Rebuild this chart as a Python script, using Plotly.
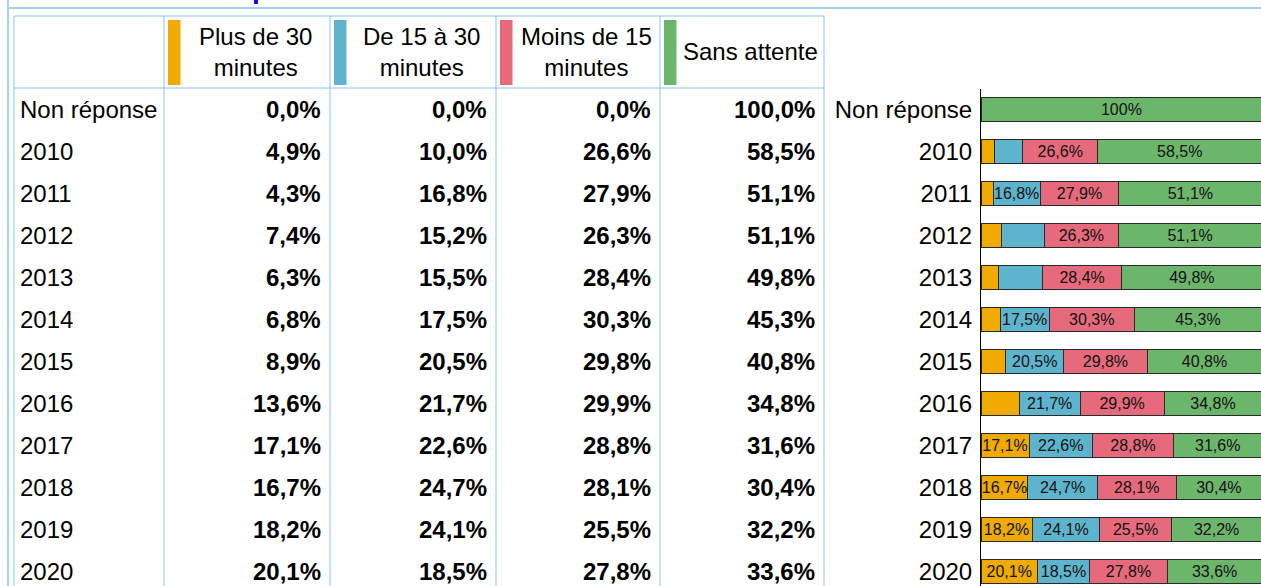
import plotly.graph_objects as go

# ---------------- data ----------------
categories = ["Non réponse", "2010", "2011", "2012", "2013", "2014", "2015",
              "2016", "2017", "2018", "2019", "2020"]
series_names = ["Plus de 30 minutes", "De 15 à 30 minutes",
                "Moins de 15 minutes", "Sans attente"]
header_labels = ["Plus de 30<br>minutes", "De 15 à 30<br>minutes",
                 "Moins de 15<br>minutes", "Sans attente"]
plus_30 = [0.0, 4.9, 4.3, 7.4, 6.3, 6.8, 8.9, 13.6, 17.1, 16.7, 18.2, 20.1]
de_15_30 = [0.0, 10.0, 16.8, 15.2, 15.5, 17.5, 20.5, 21.7, 22.6, 24.7, 24.1, 18.5]
moins_15 = [0.0, 26.6, 27.9, 26.3, 28.4, 30.3, 29.8, 29.9, 28.8, 28.1, 25.5, 27.8]
sans_attente = [100.0, 58.5, 51.1, 51.1, 49.8, 45.3, 40.8, 34.8, 31.6, 30.4, 32.2, 33.6]
series_values = [plus_30, de_15_30, moins_15, sans_attente]
colors = ["#F0AA00", "#5FB4CD", "#E66A7B", "#6CB66C"]
label_min = 16.5  # segments smaller than this carry no label in the chart

# ---------------- layout helpers ----------------
W, H = 1261, 586
FONT = "Liberation Sans, Arial, sans-serif"
GRID = "#8EC1F7"


def px(x):
    return x / W


def py(y):
    return 1 - y / H


def fr(v):
    return f"{v:.1f}".replace(".", ",") + "%"


def bar_label(v):
    if v < label_min:
        return ""
    if v == 100:
        return "100%"
    return fr(v)


fig = go.Figure()

for name, vals, col in zip(series_names, series_values, colors):
    fig.add_trace(go.Bar(
        y=categories, x=vals, name=name, orientation="h",
        marker=dict(color=col, line=dict(color="#2a2a2a", width=1)),
        text=[bar_label(v) for v in vals],
        textposition="inside", insidetextanchor="middle", textangle=0,
        textfont=dict(family=FONT, size=16, color="#111111"),
        hoverinfo="skip", showlegend=False,
    ))

plot_top = 88.5
n_visible = (H - plot_top) / 42.0

fig.update_layout(
    width=W, height=H, autosize=False,
    margin=dict(l=0, r=0, t=0, b=0),
    paper_bgcolor="white", plot_bgcolor="white",
    barmode="stack", bargap=0.43,
    uniformtext=dict(minsize=16, mode="show"),
    font=dict(family=FONT, color="#000000"),
    xaxis=dict(domain=[px(981), 1], range=[0, 99.7], visible=False,
               fixedrange=True),
    yaxis=dict(domain=[0, py(plot_top)], type="category",
               range=[n_visible - 0.5, -0.5],
               showline=True, linecolor="#000000", linewidth=1,
               showgrid=False, zeroline=False, ticks="",
               ticklabelstandoff=3,
               tickfont=dict(family=FONT, size=24, color="#000000")),
)

shapes = []


def line(x0, y0, x1, y1, color=GRID, width=1):
    shapes.append(dict(type="line", xref="paper", yref="paper",
                       x0=px(x0), y0=py(y0), x1=px(x1), y1=py(y1),
                       line=dict(color=color, width=width)))


# page frame lines
line(8, 0, 8, H, color="#A6CFFA", width=2)
line(8, 8, W, 8, color="#A6CFFA", width=2)
# table grid
col_edges = [14, 164, 330, 496, 660, 824]
line(14, 16, 824, 16)
line(14, 88, 824, 88)
for xe in col_edges:
    line(xe, 16, xe, H)

# cut-off blue title remnant at the very top
shapes.append(dict(type="rect", xref="paper", yref="paper",
                   x0=px(254), x1=px(258), y0=py(4), y1=py(0),
                   fillcolor="#1414E6", line=dict(width=0)))

# header colour swatches
for j, col in enumerate(colors):
    xl = col_edges[j + 1] + 4
    shapes.append(dict(type="rect", xref="paper", yref="paper",
                       x0=px(xl), x1=px(xl + 12.5), y0=py(85), y1=py(20),
                       fillcolor=col, line=dict(width=0)))

annotations = []
# header texts
for j, lab in enumerate(header_labels):
    left = col_edges[j + 1] + 16.5
    right = col_edges[j + 2]
    annotations.append(dict(
        xref="paper", yref="paper", x=px((left + right) / 2), y=py(52),
        xanchor="center", yanchor="middle", text=lab, showarrow=False,
        align="center", font=dict(family=FONT, size=24, color="#000000")))

# table rows (y given as category index, aligned with the bar rows)
for i, cat in enumerate(categories):
    annotations.append(dict(
        xref="paper", yref="y", x=px(18), y=i, xanchor="left",
        yanchor="middle", text=cat, showarrow=False,
        font=dict(family=FONT, size=24, color="#000000")))
    for j, vals in enumerate(series_values):
        annotations.append(dict(
            xref="paper", yref="y", x=px(col_edges[j + 2] - 7), y=i,
            xanchor="right", yanchor="middle", text="<b>" + fr(vals[i]) + "</b>",
            showarrow=False,
            font=dict(family=FONT, size=24, color="#000000")))

fig.update_layout(shapes=shapes, annotations=annotations)

fig.write_html(
    "out.html",
    config={"displayModeBar": False},
    post_script="document.body.style.margin='0';"
                "document.body.style.padding='0';"
                "document.documentElement.style.overflow='hidden';",
)
